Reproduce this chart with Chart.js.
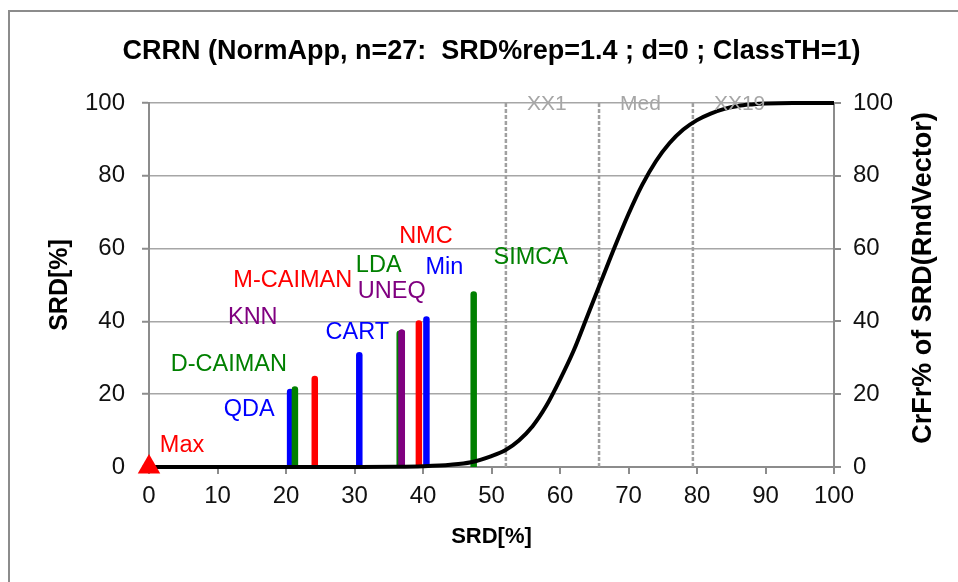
<!DOCTYPE html>
<html>
<head>
<meta charset="utf-8">
<script src="https://cdn.jsdelivr.net/npm/chart.js@4.4.1/dist/chart.umd.min.js"></script>
<style>
  html, body { margin: 0; padding: 0; background: #fff; overflow: hidden; }
  #frame { position: absolute; left: 8px; top: 10px; width: 1000px; height: 1000px; border: 2px solid #8c8c8c; }
  #wrap { position: absolute; left: 0; top: 0; width: 958px; height: 582px; }
</style>
</head>
<body>
<div id="frame"></div>
<div id="wrap"><canvas id="chart" width="958" height="582"></canvas></div>
<script>
const chartTitle = 'CRRN (NormApp, n=27:  SRD%rep=1.4 ; d=0 ; ClassTH=1)';

// Classifier results: SRD[%] of each method (bar drawn at x = SRD, height = SRD)
const methodNames  = ['Max', 'QDA', 'D-CAIMAN', 'M-CAIMAN', 'CART', 'LDA', 'KNN', 'UNEQ', 'NMC', 'Min', 'SIMCA'];
const methodSRD    = [0, 20.6, 21.3, 24.2, 30.7, 36.6, 36.9, 36.9, 39.4, 40.5, 47.4];
const methodColors = ['#ff0000', '#0000ff', '#008000', '#ff0000', '#0000ff', '#008000', '#800080', '#800080', '#ff0000', '#0000ff', '#008000'];
// label placement relative to the top of each bar, in pixels
const labelOffsets = [[33, -21], [-41, 17], [-66, -25], [-22, -98], [-2, -23], [-21, -68], [-149, -15], [-10, -41], [7, -87], [18, -52], [57, -37]];

// Cumulative relative frequency of SRD for random vectors (right axis)
const curveX = [0, 30, 36, 40, 44, 47, 50, 52, 54, 56, 58, 60, 62, 64, 66, 68, 70, 72, 74, 76, 78, 80, 82, 84, 86, 88, 90, 94, 100];
const curveY = [0, 0, 0.05, 0.2, 0.6, 1.3, 3.0, 4.6, 7.3, 11.2, 16.8, 24.0, 32.0, 41.5, 51.0, 60.5, 69.5, 77.5, 84.0, 89.0, 92.7, 95.3, 97.1, 98.4, 99.2, 99.6, 99.85, 100, 100];

// Quantile markers of the random distribution
const markerNames  = ['XX1', 'Med', 'XX19'];
const markerValues = [52.1, 65.7, 79.4];

const axisTicks = [0, 20, 40, 60, 80, 100];

const GRID = '#a6a6a6';
const AXIS = '#8c8c8c';
const FONT = "'Liberation Sans', Arial, sans-serif";

const datasets = [];

markerValues.forEach((v, i) => {
  datasets.push({
    type: 'line', label: markerNames[i],
    data: [{ x: v, y: 0 }, { x: v, y: 100 }],
    borderColor: '#a0a0a0', borderWidth: 2.5, borderDash: [4, 2],
    pointRadius: 0, yAxisID: 'y', order: 300
  });
});

methodNames.forEach((name, i) => {
  if (name === 'Max') return;
  datasets.push({
    type: 'line', label: name,
    data: [{ x: methodSRD[i], y: 0 }, { x: methodSRD[i], y: methodSRD[i] }],
    borderColor: methodColors[i], borderWidth: 6.5, borderCapStyle: 'round',
    pointRadius: 0, yAxisID: 'y', order: 200 - i,
    clip: { left: 10, top: 10, right: 10, bottom: 0 }
  });
});

datasets.push({
  type: 'line', label: 'CrFr%',
  data: curveX.map((x, i) => ({ x: x, y: curveY[i] })),
  borderColor: '#000', borderWidth: 4, pointRadius: 0,
  cubicInterpolationMode: 'monotone', yAxisID: 'y2', order: 10,
  clip: 4
});

datasets.push({
  type: 'scatter', label: 'Max',
  data: [{ x: methodSRD[0], y: methodSRD[0] }],
  pointStyle: 'triangle', pointRadius: 13, pointBackgroundColor: '#ff0000',
  pointBorderColor: '#ff0000', pointBorderWidth: 0,
  yAxisID: 'y', order: 1, clip: false
});

const annotations = {
  id: 'annotations',
  afterDatasetsDraw(chart) {
    const ctx = chart.ctx;
    const xs = chart.scales.x, ys = chart.scales.y;
    ctx.save();
    ctx.font = '23.5px ' + FONT;
    ctx.textAlign = 'center';
    ctx.textBaseline = 'middle';
    methodNames.forEach((name, i) => {
      const px = xs.getPixelForValue(methodSRD[i]);
      const py = ys.getPixelForValue(methodSRD[i]);
      ctx.fillStyle = methodColors[i];
      ctx.fillText(name, px + labelOffsets[i][0], py + labelOffsets[i][1]);
    });
    // quantile marker names
    ctx.fillStyle = '#a6a6a6';
    ctx.textAlign = 'left';
    ctx.font = '21px ' + FONT;
    markerValues.forEach((v, i) => {
      ctx.fillText(markerNames[i], xs.getPixelForValue(v) + 21, chart.chartArea.top + 1);
    });
    ctx.restore();
  },
  afterDraw(chart) {
    const ctx = chart.ctx;
    const area = chart.chartArea;
    ctx.save();
    // chart title, centred over the plot area
    ctx.font = 'bold 27px ' + FONT;
    ctx.fillStyle = '#000';
    ctx.textAlign = 'center';
    ctx.textBaseline = 'middle';
    ctx.fillText(chartTitle, (area.left + area.right) / 2, 52);
    // right axis title, reading bottom to top
    ctx.translate(924, 278);
    ctx.rotate(-Math.PI / 2);
    ctx.font = 'bold 27px ' + FONT;
    ctx.fillText('CrFr% of SRD(RndVector)', 0, 0);
    ctx.restore();
  }
};

new Chart(document.getElementById('chart'), {
  data: { datasets },
  plugins: [annotations],
  options: {
    responsive: false,
    animation: false,
    devicePixelRatio: 1,
    layout: { padding: { top: 103, left: 0, right: 0, bottom: 0 } },
    plugins: {
      legend: { display: false },
      tooltip: { enabled: false },
      title: { display: false }
    },
    scales: {
      x: {
        type: 'linear', min: 0, max: 100,
        afterBuildTicks: s => { s.ticks = [0,10,20,30,40,50,60,70,80,90,100].map(v => ({ value: v })); },
        afterFit: s => { s.height = 115; },
        grid: { drawOnChartArea: false, tickLength: 7, color: AXIS, lineWidth: 2 },
        border: { color: AXIS, width: 2 },
        ticks: { color: '#111', font: { family: FONT, size: 24 }, padding: 8, maxRotation: 0 },
        title: { display: true, text: 'SRD[%]', color: '#000', font: { family: FONT, size: 22, weight: 'bold' }, padding: { top: 0, bottom: 32 } }
      },
      y: {
        type: 'linear', position: 'left', min: 0, max: 100,
        afterBuildTicks: s => { s.ticks = axisTicks.map(v => ({ value: v })); },
        afterFit: s => { s.width = 149; },
        grid: { color: GRID, lineWidth: 1.5, tickLength: 7, tickColor: AXIS, tickWidth: 2 },
        border: { color: AXIS, width: 2 },
        ticks: { color: '#111', font: { family: FONT, size: 24 }, padding: 17 },
        title: { display: true, text: 'SRD[%]', color: '#000', font: { family: FONT, size: 25, weight: 'bold' }, padding: { top: 45, bottom: 0 } }
      },
      y2: {
        type: 'linear', position: 'right', min: 0, max: 100,
        afterBuildTicks: s => { s.ticks = axisTicks.map(v => ({ value: v })); },
        afterFit: s => { s.width = 124; },
        grid: { drawOnChartArea: false, tickLength: 7, color: AXIS, lineWidth: 2 },
        border: { color: AXIS, width: 2 },
        ticks: { color: '#111', font: { family: FONT, size: 24 }, padding: 12 }
      }
    }
  }
});
</script>
</body>
</html>
